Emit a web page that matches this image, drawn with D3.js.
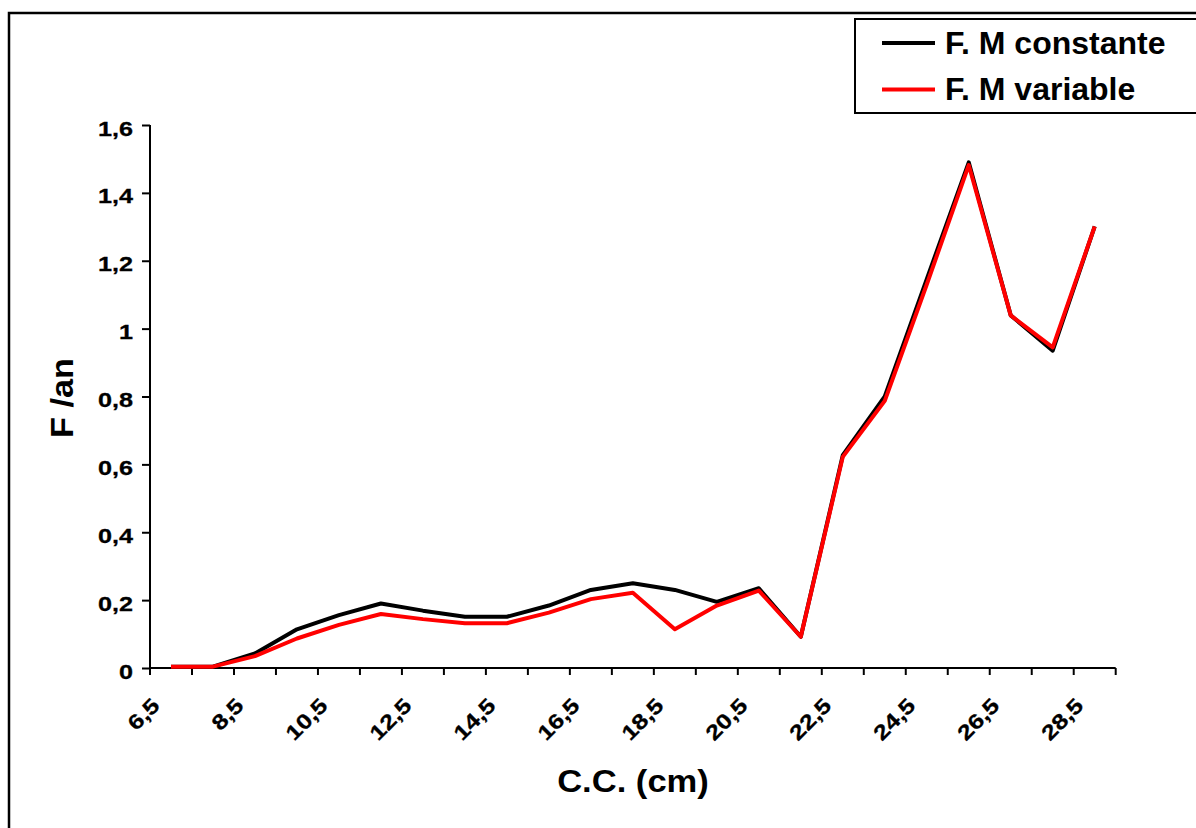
<!DOCTYPE html>
<html>
<head>
<meta charset="utf-8">
<script src="https://cdn.jsdelivr.net/npm/d3@7/dist/d3.min.js"></script>
<style>
  html, body { margin: 0; padding: 0; background: #fff; }
  svg { display: block; font-family: "Liberation Sans", Arial, sans-serif; font-weight: bold; }
</style>
</head>
<body>
<svg id="chart" width="1196" height="828"></svg>
<script>
// Size classes (C.C., cm)
const sizeClasses = ["6,5","7,5","8,5","9,5","10,5","11,5","12,5","13,5","14,5","15,5","16,5","17,5",
  "18,5","19,5","20,5","21,5","22,5","23,5","24,5","25,5","26,5","27,5","28,5"];
// Fishing mortality per year, constant natural mortality
const fConstante = [0.004,0.004,0.043,0.114,0.156,0.190,0.169,0.151,0.151,0.184,0.230,0.250,
  0.230,0.195,0.235,0.092,0.627,0.800,1.146,1.490,1.039,0.935,1.301];
// Fishing mortality per year, variable natural mortality
const fVariable = [0.004,0.004,0.035,0.087,0.127,0.159,0.144,0.132,0.132,0.163,0.203,0.222,
  0.114,0.184,0.228,0.092,0.622,0.787,1.130,1.482,1.039,0.945,1.301];
const yTicks = [0, 0.2, 0.4, 0.6, 0.8, 1, 1.2, 1.4, 1.6];
const seriesNames = ["F. M constante", "F. M variable"];
const seriesColors = ["#000000", "#ff0000"];

const svg = d3.select("#chart");
const fmt = v => String(v).replace(".", ",");
const labelStretch = 1.2;   // wide tick-label lettering

// outer frame
svg.append("path")
  .attr("d", "M9,828 L9,13 L1196,13")
  .attr("fill", "none").attr("stroke", "#000").attr("stroke-width", 2.5);

const plotLeft = 150, plotRight = 1115.7, plotTop = 125, plotBottom = 668;

const x = d3.scaleBand().domain(sizeClasses).range([plotLeft, plotRight]).padding(0);
const y = d3.scaleLinear().domain([0, 1.6]).range([plotBottom, plotTop]);

// y axis
const yAxis = svg.append("g").attr("transform", `translate(${plotLeft},0)`)
  .call(d3.axisLeft(y).tickValues(yTicks).tickFormat(fmt).tickSize(8));
yAxis.select(".domain").attr("stroke-width", 2).attr("d", `M0,${plotTop}V${plotBottom}`);
yAxis.selectAll(".tick line").attr("stroke-width", 2);
yAxis.selectAll(".tick text")
  .attr("x", null).attr("dy", null)
  .attr("transform", `translate(-17,10) scale(${labelStretch},1)`)
  .attr("text-anchor", "end")
  .attr("font-size", 21).attr("font-weight", "bold")
  .attr("stroke", "#000").attr("stroke-width", 0.3)
  .attr("font-family", "Liberation Sans, Arial, sans-serif").attr("fill", "#000");

// x axis: ticks on band boundaries
const xg = svg.append("g").attr("transform", `translate(0,${plotBottom})`);
xg.append("line").attr("x1", plotLeft).attr("x2", plotRight).attr("stroke", "#000").attr("stroke-width", 2);
const boundaries = sizeClasses.map(c => x(c)).concat([plotRight]);
xg.selectAll("line.tk").data(boundaries).join("line").attr("class", "tk")
  .attr("x1", d => d).attr("x2", d => d).attr("y1", 0).attr("y2", 7)
  .attr("stroke", "#000").attr("stroke-width", 2);
xg.selectAll("text").data(sizeClasses.filter((c, i) => i % 2 === 0)).join("text")
  .attr("transform", c => `translate(${x(c) + x.bandwidth() / 2 - 10},${39}) rotate(-45) scale(${labelStretch},1)`)
  .attr("text-anchor", "end")
  .attr("font-size", 21).attr("fill", "#000")
  .attr("stroke", "#000").attr("stroke-width", 0.3)
  .text(c => c);

// axis titles
svg.append("text").attr("transform", "translate(73,398) rotate(-90) scale(1.07,1)")
  .attr("text-anchor", "middle").attr("font-size", 32).text("F /an");
svg.append("text").attr("transform", "translate(633,792) scale(1.08,1)")
  .attr("text-anchor", "middle").attr("font-size", 32).text("C.C. (cm)");

// lines
const line = d3.line().x((d, i) => x(sizeClasses[i]) + x.bandwidth() / 2).y(d => y(d));
[fConstante, fVariable].forEach((s, k) => {
  svg.append("path").datum(s).attr("d", line)
    .attr("fill", "none").attr("stroke", seriesColors[k]).attr("stroke-width", 4)
    .attr("stroke-linejoin", "round");
});

// legend
const lg = svg.append("g");
lg.append("rect").attr("x", 855).attr("y", 19).attr("width", 360).attr("height", 94)
  .attr("fill", "#fff").attr("stroke", "#000").attr("stroke-width", 2);
seriesNames.forEach((n, k) => {
  const cy = 43 + k * 46.5;
  lg.append("line").attr("x1", 882).attr("x2", 935).attr("y1", cy).attr("y2", cy)
    .attr("stroke", seriesColors[k]).attr("stroke-width", 4);
  lg.append("text").attr("x", 945).attr("y", cy + 10.5).attr("font-size", 32).text(n);
});
</script>
</body>
</html>
